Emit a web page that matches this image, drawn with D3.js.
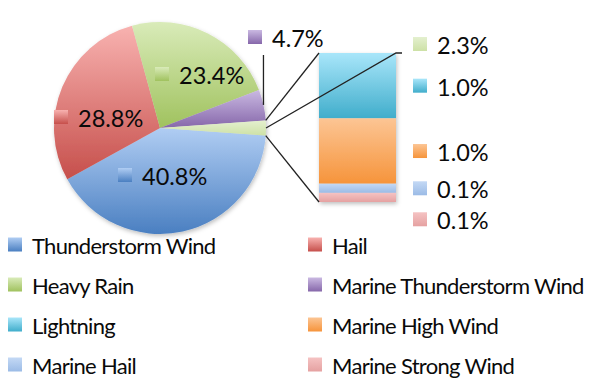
<!DOCTYPE html>
<html>
<head>
<meta charset="utf-8">
<script src="https://cdn.jsdelivr.net/npm/d3@7"></script>
<style>
  body { margin: 0; background: #fff; }
  svg text { font-family: Lato, "Open Sans", sans-serif; fill: #0a0a0a; }
</style>
</head>
<body>
<div id="chart"></div>
<script>
// storm event types and their share of all events (%)
var categories = ["Thunderstorm Wind", "Hail", "Heavy Rain", "Marine Thunderstorm Wind",
                  "Lightning", "Marine High Wind", "Marine Hail", "Marine Strong Wind"];
var shares = [40.8, 28.8, 23.4, 4.7, 1.0, 1.0, 0.14, 0.14];
var splitAt = 4; // categories from here on go into the bar
var topColors = ["#b0cdf3", "#f8b2b0", "#d9ebb9", "#cab9e2", "#a9e6fa", "#fcc594", "#c4d9f5", "#f5c3c3"];
var botColors = ["#4a7fc1", "#c64f4b", "#a0c25e", "#8667aa", "#40adcb", "#f6943b", "#9bbbe6", "#e5a1a1"];
var otherTop = "#e4f0cf", otherBot = "#cde1a6";

var width = 598, height = 389;
var cx = 160, cy = 128, r = 106;

var svg = d3.select("#chart").append("svg")
    .attr("width", width)
    .attr("height", height);

var defs = svg.append("defs");
function grad(id, c1, c2) {
  var g = defs.append("linearGradient").attr("id", id)
      .attr("x1", 0).attr("y1", 0).attr("x2", 0).attr("y2", 1);
  g.append("stop").attr("offset", "0%").attr("stop-color", c1);
  g.append("stop").attr("offset", "100%").attr("stop-color", c2);
}
categories.forEach(function(c, i) { grad("g" + i, topColors[i], botColors[i]); });
grad("gOther", otherTop, otherBot);

var shadow = defs.append("filter").attr("id", "shadow")
    .attr("x", "-10%").attr("y", "-10%").attr("width", "130%").attr("height", "130%");
shadow.append("feDropShadow").attr("dx", 1).attr("dy", 2).attr("stdDeviation", 2)
    .attr("flood-color", "#000").attr("flood-opacity", 0.25);

// pie data: main slices + one "other" slice
var otherSum = d3.sum(shares.slice(splitAt));
var pieVals = shares.slice(0, splitAt).map(function(v, i) { return {v: v, i: i}; });
pieVals.push({v: otherSum, i: "Other"});
var total = d3.sum(pieVals, function(d) { return d.v; });
var otherAngle = 2 * Math.PI * otherSum / total;
var start = Math.PI / 2 + otherAngle / 2;

var pie = d3.pie().sort(null).value(function(d) { return d.v; })
    .startAngle(start).endAngle(start + 2 * Math.PI);
var arcs = pie(pieVals);
var arc = d3.arc().innerRadius(0).outerRadius(r);

var pg = svg.append("g").attr("transform", "translate(" + cx + "," + cy + ")");
pg.append("g").attr("filter", "url(#shadow)")
  .selectAll("path").data(arcs).enter().append("path")
    .attr("d", arc)
    .attr("fill", function(d) { return d.data.i === "Other" ? "url(#gOther)" : "url(#g" + d.data.i + ")"; });

function key(g, x, y, fill) {
  g.append("rect").attr("x", x).attr("y", y - 7).attr("width", 14).attr("height", 14).attr("fill", fill);
}
function fmt(v) { return v.toFixed(1) + "%"; }

// labels for the pie slices (offsets of the key from pie centre)
var labelOffsets = [[-42, 49], [-106, -9], [-5, -52], [88, -89], [253, -82]];
arcs.forEach(function(d, k) {
  var o = labelOffsets[k];
  var x = cx + o[0], y = cy + o[1];
  var fill = d.data.i === "Other" ? "url(#gOther)" : "url(#g" + d.data.i + ")";
  key(svg, x, y - 2, fill);
  svg.append("text").attr("x", x + 24).attr("y", y + 8)
      .style("font-size", "23.5px").text(fmt(d.data.v));
});

// leader line for the purple slice
var leader = d3.arc().innerRadius(r).outerRadius(r);
var purple = arcs[3], other = arcs[4];
var pp = leader.centroid(purple);
svg.append("line").attr("x1", cx + pp[0]).attr("y1", cy + pp[1])
    .attr("x2", cx + pp[0]).attr("y2", cy + labelOffsets[3][1] + 16)
    .attr("stroke", "#222").attr("stroke-width", 1.3);

// bar of the split-off categories
var barX = 319, barW = 77, barTop = 53, barBot = 202;
var yBar = d3.scaleLinear().domain([0, otherSum]).range([barTop, barBot]);
var stack = [];
var acc = 0;
shares.slice(splitAt).forEach(function(v, j) {
  stack.push({i: splitAt + j, v: v, y0: acc, y1: acc + v});
  acc += v;
});
var bg = svg.append("g").attr("filter", "url(#shadow)");
bg.selectAll("rect").data(stack).enter().append("rect")
    .attr("x", barX).attr("width", barW)
    .attr("y", function(d) { return yBar(d.y0); })
    .attr("height", function(d) { return yBar(d.y1) - yBar(d.y0); })
    .attr("fill", function(d) { return "url(#g" + d.i + ")"; });

// series lines from the "other" slice to the bar
var a0 = other.startAngle, a1 = other.endAngle;
var pt = function(a) { return [cx + r * Math.sin(a), cy - r * Math.cos(a)]; };
var p0 = pt(a0), p1 = pt(a1);
svg.append("line").attr("x1", p0[0]).attr("y1", p0[1]).attr("x2", barX).attr("y2", barTop)
    .attr("stroke", "#222").attr("stroke-width", 1.3);
svg.append("line").attr("x1", p1[0]).attr("y1", p1[1]).attr("x2", barX).attr("y2", barBot)
    .attr("stroke", "#222").attr("stroke-width", 1.3);
// leader line for the "other" label
var po = pt((a0 + a1) / 2);
svg.append("polyline")
    .attr("points", [po, [barX + barW, barTop], [barX + barW + 6, barTop]].map(String).join(" "))
    .attr("fill", "none").attr("stroke", "#222").attr("stroke-width", 1.3);

// bar labels, pushed down if they collide
var lastY = -Infinity;
stack.forEach(function(d) {
  var y = (yBar(d.y0) + yBar(d.y1)) / 2;
  if (y < lastY + 31) y = lastY + 31;
  lastY = y;
  key(svg, 413, y, "url(#g" + d.i + ")");
  svg.append("text").attr("x", 437).attr("y", y + 10)
      .style("font-size", "23.5px").text(fmt(d.v));
});

// legend
var lg = svg.append("g");
categories.forEach(function(c, i) {
  var col = i % 2, row = Math.floor(i / 2);
  var x = col ? 308 : 8, y = 244.5 + row * 40;
  key(lg, x, y, "url(#g" + i + ")");
  lg.append("text").attr("x", x + 24).attr("y", y + 9.5)
      .style("font-size", "22px").style("letter-spacing", "-0.7px").text(c);
});
</script>
</body>
</html>
